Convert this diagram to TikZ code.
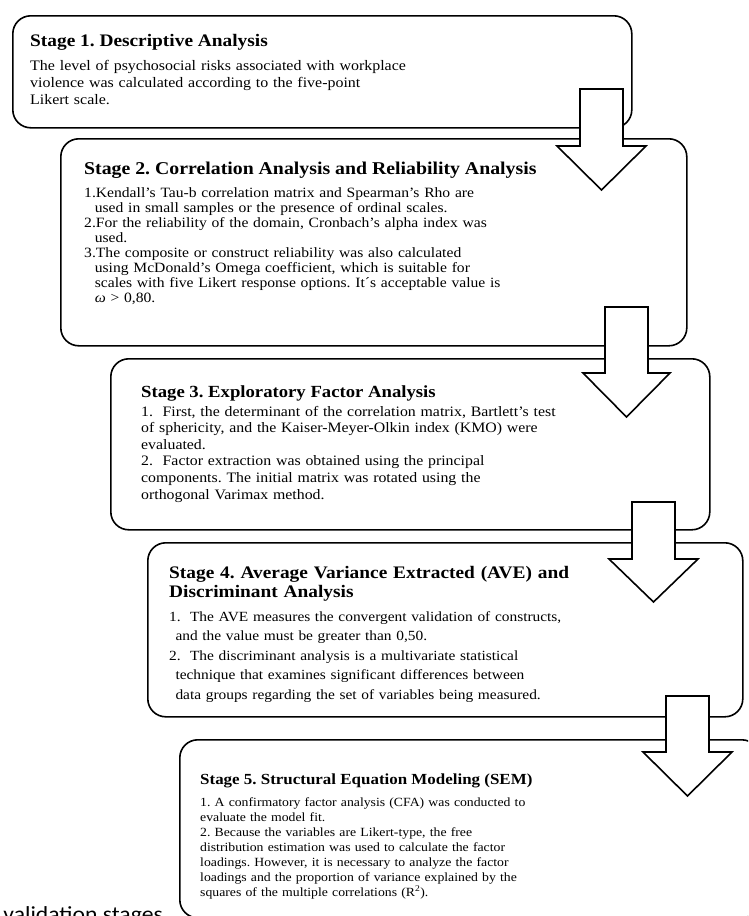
\documentclass[tikz,border=0pt]{standalone}
\usepackage{fontspec}
\setmainfont[FakeStretch=1.1]{Liberation Serif}
\newfontfamily\capfont[FakeStretch=1.1]{Carlito}
\frenchspacing

\begin{document}
\begin{tikzpicture}[x=1pt, y=-1pt,
  stagebox/.style={draw=black, line width=1.6pt, rounded corners=18pt, fill=white, inner sep=0pt, anchor=north west},
  stagetitle/.style={anchor=base west, inner sep=0pt, font=\bfseries\fontsize{17.6}{20}\selectfont},
  stagetext/.style={anchor=base west, inner sep=0pt, text width=560pt, align=left},
  blockarrow/.style={draw=black, line width=1.6pt, fill=white, line join=miter}]

\useasboundingbox (0,0) rectangle (748,916);
\clip (0,0) rectangle (748,916);

% boxes
\node[stagebox, minimum width=619pt, minimum height=112pt] (box1) at (12,15) {};
\node[stagebox, minimum width=626pt, minimum height=207pt] (box2) at (60,138) {};
\node[stagebox, minimum width=599pt, minimum height=171pt] (box3) at (110,358) {};
\node[stagebox, minimum width=595pt, minimum height=174pt] (box4) at (147,542) {};
\node[stagebox, minimum width=580pt, minimum height=178pt] (box5) at (179,739) {};

% stage 1
\node[stagetitle] (title1) at ([shift={(18,31)}]box1.north west) {Stage 1. Descriptive Analysis};
\node[stagetext, font=\fontsize{14.5}{17}\selectfont] (text1) at ([shift={(18,55)}]box1.north west)
  {The level of psychosocial risks associated with workplace\\
   violence was calculated according to the five-point\\
   Likert scale.};

% stage 2
\node[stagetitle, font=\bfseries\fontsize{18}{20}\selectfont] (title2) at ([shift={(24,36)}]box2.north west)
  {Stage 2. Correlation Analysis and Reliability Analysis};
\node[stagetext, font=\fontsize{14.2}{15}\selectfont] (text2) at ([shift={(24,59)}]box2.north west)
  {1.Kendall’s Tau-b correlation matrix and Spearman’s Rho are\\
   \hspace*{0.75em}used in small samples or the presence of ordinal scales.\\
   2.For the reliability of the domain, Cronbach’s alpha index was\\
   \hspace*{0.75em}used.\\
   3.The composite or construct reliability was also calculated\\
   \hspace*{0.75em}using McDonald’s Omega coefficient, which is suitable for\\
   \hspace*{0.75em}scales with five Likert response options. It´s acceptable value is\\
   \hspace*{0.75em}\textit{ω} > 0,80.};

% stage 3
\node[stagetitle, font=\bfseries\fontsize{17}{20}\selectfont] (title3) at ([shift={(31,39)}]box3.north west)
  {Stage 3. Exploratory Factor Analysis};
\node[stagetext, font=\fontsize{14.4}{16.6}\selectfont] (text3) at ([shift={(31,58)}]box3.north west)
  {1.\ \ First, the determinant of the correlation matrix, Bartlett's test\\
   of sphericity, and the Kaiser-Meyer-Olkin index (KMO) were\\
   evaluated.\\
   2.\ \ Factor extraction was obtained using the principal\\
   components. The initial matrix was rotated using the\\
   orthogonal Varimax method.};

% stage 4
\node[stagetitle, text width=560pt, align=left, font=\bfseries\fontsize{17.6}{19}\selectfont] (title4) at ([shift={(22,36)}]box4.north west)
  {Stage 4. Average Variance Extracted (AVE) and\\
   Discriminant Analysis};
\node[stagetext, font=\fontsize{14}{19.5}\selectfont] (text4) at ([shift={(22,79)}]box4.north west)
  {1.\ \ The AVE measures the convergent validation of constructs,\\
   \hspace*{0.45em}and the value must be greater than 0,50.\\
   2.\ \ The discriminant analysis is a multivariate statistical\\
   \hspace*{0.45em}technique that examines significant differences between\\
   \hspace*{0.45em}data groups regarding the set of variables being measured.};

% stage 5
\node[stagetitle, font=\bfseries\fontsize{15.4}{18}\selectfont] (title5) at ([shift={(21,45)}]box5.north west)
  {Stage 5. Structural Equation Modeling (SEM)};
\node[stagetext, font=\fontsize{12.5}{15}\selectfont] (text5) at ([shift={(21,67)}]box5.north west)
  {1. A confirmatory factor analysis (CFA) was conducted to\\
   evaluate the model fit.\\
   2. Because the variables are Likert-type, the free\\
   distribution estimation was used to calculate the factor\\
   loadings. However, it is necessary to analyze the factor\\
   loadings and the proportion of variance explained by the\\
   squares of the multiple correlations (R\textsuperscript{2}).};

% arrows between stages
\coordinate (a1) at (601.5,89);
\coordinate (a2) at (626.5,307);
\coordinate (a3) at (653.5,502);
\coordinate (a4) at (687.5,696);
\draw[blockarrow] ([xshift=-21.5pt]a1) -- ++(0,57) -- ++(-23,0) -- ++(44.5,44) -- ++(44.5,-44) -- ++(-23,0) -- ++(0,-57) -- cycle;
\draw[blockarrow] ([xshift=-21.5pt]a2) -- ++(0,66) -- ++(-22,0) -- ++(43.5,44) -- ++(43.5,-44) -- ++(-22,0) -- ++(0,-66) -- cycle;
\draw[blockarrow] ([xshift=-21.5pt]a3) -- ++(0,57) -- ++(-23,0) -- ++(44.5,43) -- ++(44.5,-43) -- ++(-23,0) -- ++(0,-57) -- cycle;
\draw[blockarrow] ([xshift=-21.5pt]a4) -- ++(0,56) -- ++(-23,0) -- ++(44.5,44) -- ++(44.5,-44) -- ++(-23,0) -- ++(0,-56) -- cycle;

% caption fragment
\node[font=\capfont\fontsize{21.5}{24}\selectfont, anchor=base east, inner sep=0pt] (caption) at (163,921) {validation stages};
\end{tikzpicture}
\end{document}
